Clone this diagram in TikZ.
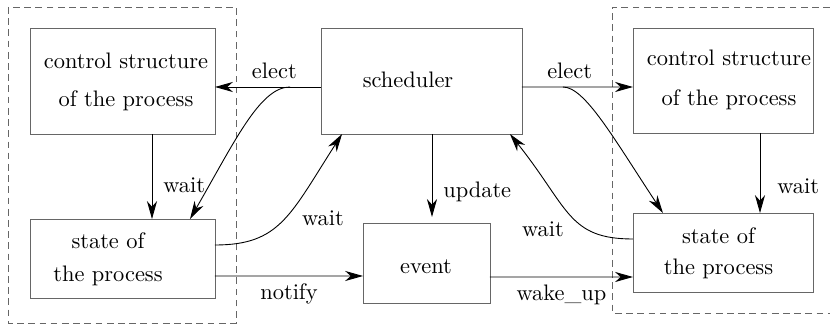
\documentclass[tikz,border=0pt]{standalone}
\usetikzlibrary{arrows.meta,calc}

\begin{document}
\begin{tikzpicture}[x=0.446pt,y=-0.446pt,
  box/.style={draw=black!60,inner sep=0pt,outer sep=0pt},
  arr/.style={-{Stealth[length=8pt,width=4.5pt,inset=2.5pt]}},
  grp/.style={draw=black!60,dash pattern=on 3pt off 2pt}]
\useasboundingbox (0,0) rectangle (830,326);

% left process
\draw[grp] (8,7) rectangle (236,323);
\node[box,minimum width=82.5pt,minimum height=47.3pt] (lctrl) at (122.5,81) {};
\node[align=center] (lctrltxt) at (126,81.5) {control structure\\[5pt]of the process};
\node[box,minimum width=82.5pt,minimum height=35.2pt] (lstate) at (122.5,258.5) {};
\node[align=center] (lstatetxt) at (108,259.5) {state of\\[2.7pt]the process};

% scheduler and event
\node[box,minimum width=89.6pt,minimum height=47.3pt] (sched) at (421.5,81) {};
\node (schedtxt) at (408,80) {scheduler};
\node[box,minimum width=56.6pt,minimum height=35.7pt] (event) at (426.5,263) {};
\node (eventtxt) at (426,267) {event};

% right process
\draw[grp] (830,7) -- (612,7) -- (612,313) -- (830,313);
\node[box,minimum width=80.3pt,minimum height=46.8pt] (rctrl) at (723,80.5) {};
\node[align=center] (rctrltxt) at (729,80) {control structure\\[5.8pt]of the process};
\node[box,minimum width=80.3pt,minimum height=35.2pt] (rstate) at (723,252.5) {};
\node[align=center] (rstatetxt) at (718.5,253.5) {state of\\[1.8pt]the process};

\coordinate (lfork) at ($(sched.west)+(-31,6)$);
\coordinate (rfork) at ($(sched.east)+(41,6)$);

% elect
\draw[arr] ($(sched.west)+(0,6)$) -- ($(lctrl.east)+(0,6)$) node[pos=.44,above] (lelect) {elect};
\draw[arr] (lfork) .. controls +(-30,0) and +(45,-78) .. ($(lstate.north east)+(-25,0)$);
\draw[arr] ($(sched.east)+(0,6)$) -- ($(rctrl.west)+(0,6.5)$) node[pos=.43,above] (relect) {elect};
\draw[arr] (rfork) .. controls +(22,0) and +(-49.5,-75) .. ($(rstate.north west)+(30,0)$);

% wait
\draw[arr] ($(lctrl.south)+(29.5,0)$) -- ($(lstate.north)+(29.5,0)$) node[pos=.6,right,xshift=1.5pt] (lwait) {wait};
\draw[arr] ($(rctrl.south)+(37,0)$) -- ($(rstate.north)+(37,0)$) node[pos=.66,right,xshift=4.2pt] (rwait) {wait};
\draw[arr] ($(lstate.east)+(0,-13.5)$) .. controls +(65,0) and +(-52,81) .. ($(sched.south west)+(21,0)$);
\node (lswait) at (323,218) {wait};
\draw[arr] ($(rstate.west)+(0,-13.5)$) .. controls +(-65,0) and +(59,74) .. ($(sched.south east)+(-12,0)$);
\node (rswait) at (543,229) {wait};

% update, notify, wake_up
\draw[arr] ($(sched.south)+(10.5,0)$) -- ($(event.north)+(5.5,-6)$) node[pos=.7,right,xshift=1.5pt] (upd) {update};
\draw[arr] ($(lstate.east)+(0,17.5)$) -- ($(event.west)+(0,13)$) node[midway,below] (ntf) {notify};
\draw[arr] ($(event.east)+(0,14)$) -- ($(rstate.west)+(0,24.5)$) node[midway,below] (wku) {wake\_up};
\end{tikzpicture}
\end{document}
